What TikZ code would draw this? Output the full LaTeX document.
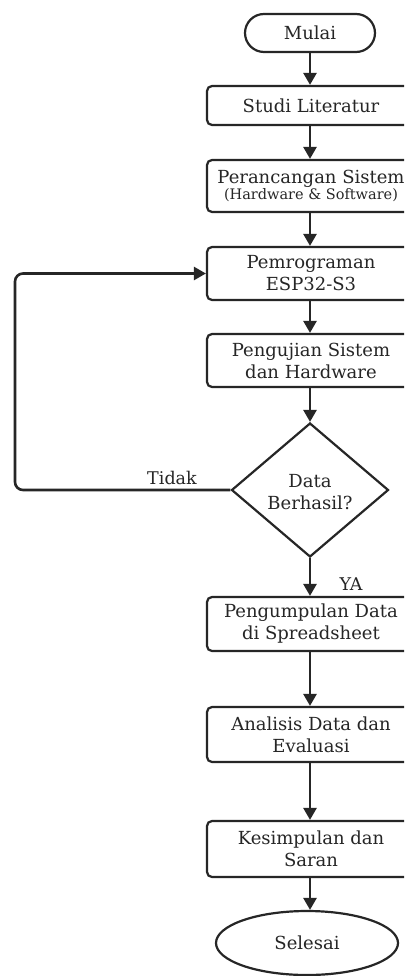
\documentclass[tikz,border=0pt]{standalone}
\usepackage{fontspec}
\setmainfont{DejaVu Serif}
\usetikzlibrary{arrows.meta,shapes.geometric}
\definecolor{ink}{HTML}{262626}
\tikzset{
  flow/.style={draw=ink,line width=2.2pt,fill=white,rounded corners=5pt,align=center,inner sep=0pt,font=\fontsize{18}{22}\selectfont,text=ink},
  procbox/.style={flow,minimum width=208pt},
  conn/.style={draw=ink,line width=2.6pt,-{Triangle[width=13pt,length=12pt]}},
  lbl/.style={font=\fontsize{17.5}{19}\selectfont,text=ink,inner sep=0pt}
}
\begin{document}
\begin{tikzpicture}[x=1pt,y=-1pt]
\useasboundingbox (0,0) rectangle (404,976);
\clip (0,0) rectangle (404,976);
\fill[white] (0,0) rectangle (404,976);
\node[flow,rounded corners=19pt,minimum width=130pt,minimum height=38pt] (start) at (310,33) {Mulai};
\node[procbox,minimum height=39pt] (s1) at (311,105.5) {Studi Literatur};
\node[procbox,minimum height=52pt] (s2) at (311,186) {Perancangan Sistem\\[-6pt]{\fontsize{14.5}{16}\selectfont(Hardware \& Software)}};
\node[procbox,minimum height=53pt] (s3) at (311,273.5) {Pemrograman\\ESP32-S3};
\node[procbox,minimum height=53pt] (s4) at (311,360.5) {Pengujian Sistem\\dan Hardware};
\node[diamond,draw=ink,line width=2.2pt,fill=white,inner sep=0pt,minimum width=157pt,minimum height=134pt] (dec) at (310,490) {};
\node[lbl,align=center,font=\fontsize{18}{22}\selectfont] (dectext) at (310,492) {Data\\Berhasil?};
\node[procbox,minimum height=54pt] (s5) at (311,624) {Pengumpulan Data\\di Spreadsheet};
\node[procbox,minimum height=55pt] (s6) at (311,734.5) {Analisis Data dan\\Evaluasi};
\node[procbox,minimum height=56pt] (s7) at (311,849) {Kesimpulan dan\\Saran};
\node[flow,ellipse,minimum width=182pt,minimum height=64pt] (end) at (307,943) {Selesai};
\coordinate (lx1) at (15,490);
\coordinate (lx2) at (15,273.5);
\draw[conn] (start.south -| 310,0) -- (s1.north -| 310,0);
\draw[conn] (s1.south -| 310,0) -- (s2.north -| 310,0);
\draw[conn] (s2.south -| 310,0) -- (s3.north -| 310,0);
\draw[conn] (s3.south -| 310,0) -- (s4.north -| 310,0);
\draw[conn] (s4.south -| 310,0) -- (dec.north);
\draw[conn] (dec.south) -- (s5.north -| 310,0);
\draw[conn] (s5.south -| 310,0) -- (s6.north -| 310,0);
\draw[conn] (s6.south -| 310,0) -- (s7.north -| 310,0);
\draw[conn] (s7.south -| 310,0) -- (end.north -| 310,0);
\draw[conn,rounded corners=8pt] (dec.west) -- (lx1) -- (lx2) -- (s3.west);
\node[lbl] (tidak) at (172,478) {Tidak};
\node[lbl] (ya) at (351,584) {YA};
\end{tikzpicture}
\end{document}
